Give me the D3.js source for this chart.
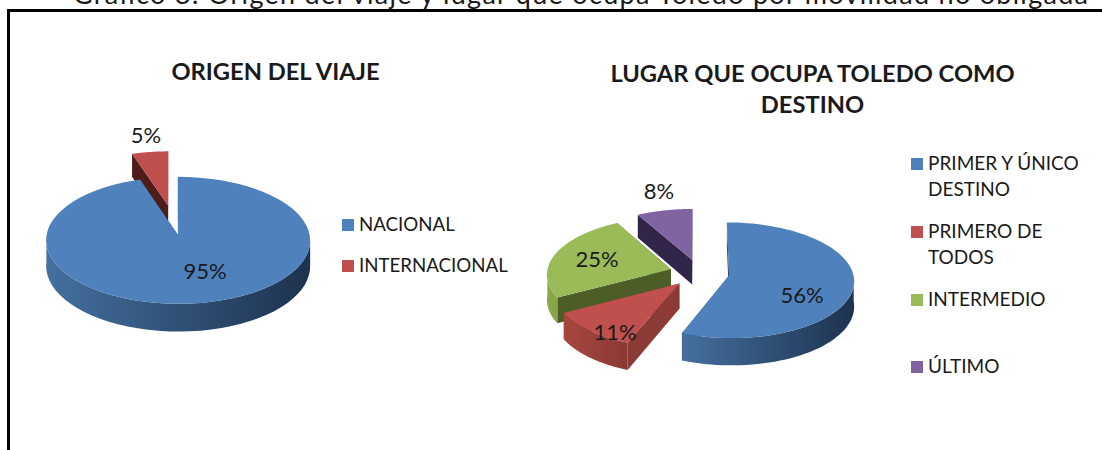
<!DOCTYPE html>
<html>
<head>
<meta charset="utf-8">
<script src="https://cdn.jsdelivr.net/npm/d3@7"></script>
<style>
body { margin: 0; background: #fff; }
text { font-family: Lato, "Open Sans", sans-serif; fill: #1a1a1a; }
</style>
</head>
<body>
<svg id="chart" width="1102" height="450"></svg>
<script>
const pageTitle = 'Gráfico 8: Origen del viaje y lugar que ocupa Toledo por movilidad no obligada'

const origenLabels = ['NACIONAL', 'INTERNACIONAL']
const origenValues = [95, 5]

const lugarLabels = [['PRIMER Y ÚNICO', 'DESTINO'], ['PRIMERO DE', 'TODOS'], ['INTERMEDIO'], ['ÚLTIMO']]
const lugarValues = [56, 11, 25, 8]

const tops = ['#4f81bd', '#c0504d', '#9bbb59', '#8064a2']
const origenCuts = ['#27415f', '#4e1d1b']
const lugarCuts = ['#27415f', '#8c3a36', '#4d5d26', '#31264a']
const wallLeft = ['#44709f', '#a8463f', '#8aa84a', '#6d5590']
const wallRight = ['#1d324e', '#8a3935', '#6f8a3c', '#4d3c6a']

const svg = d3.select('#chart')
const defs = svg.append('defs')

svg.append('text')
	.attr('x', 73).attr('y', 4)
	.attr('textLength', 1015)
	.style('font-size', '27px')
	.text(pageTitle)

svg.append('path')
	.attr('d', 'M8.5,450V10.5H1102')
	.attr('fill', 'none')
	.attr('stroke', '#000')
	.attr('stroke-width', 3)

function drawPie(values, opt, id){
	const g = svg.append('g')
	const pie = d3.pie().sort(null).value(d => d)
	const arcs = pie(values)

	// flat disk coordinates to screen, with some perspective
	const project = (u, v, h) => {
		const s = 1 / (1 - opt.persp * v / opt.r)
		return [opt.cx + u * s, opt.cy + (v * opt.tilt + h) * s]
	}
	const line = d3.line()

	// far slices first
	const mid = d => (d.startAngle + d.endAngle) / 2
	const order = d3.range(arcs.length).sort((a, b) => Math.cos(mid(arcs[b])) - Math.cos(mid(arcs[a])))

	order.forEach(i => {
		const d = arcs[i]
		const ox = Math.sin(mid(d)) * opt.explode
		const oy = -Math.cos(mid(d)) * opt.explode
		const steps = d3.range(0, 1.0001, 1 / 80).map(t => d.startAngle + t * (d.endAngle - d.startAngle))
		const rim = steps.map(a => [ox + Math.sin(a) * opt.r, oy - Math.cos(a) * opt.r])

		const top = rim.map(p => project(p[0], p[1], 0))
		const bottom = rim.map(p => project(p[0], p[1], opt.depth))
		const apexTop = project(ox, oy, 0)
		const apexBottom = project(ox, oy, opt.depth)

		// cut faces
		;[[top[0], bottom[0]], [top[top.length - 1], bottom[bottom.length - 1]]].forEach(e => {
			g.append('path')
				.attr('d', line([apexTop, e[0], e[1], apexBottom]) + 'Z')
				.attr('fill', opt.cuts[i])
		})

		// outer wall, only the part that faces the viewer
		const front = d3.range(steps.length).filter(k => Math.cos(steps[k]) < 0)
		if(front.length > 1){
			const gradId = id + '-wall-' + i
			const xs = d3.extent(top, p => p[0])
			const grad = defs.append('linearGradient')
				.attr('id', gradId)
				.attr('gradientUnits', 'userSpaceOnUse')
				.attr('x1', xs[0]).attr('x2', xs[1])
				.attr('y1', 0).attr('y2', 0)
			grad.append('stop').attr('offset', 0).attr('stop-color', wallLeft[i])
			grad.append('stop').attr('offset', 1).attr('stop-color', wallRight[i])

			g.append('path')
				.attr('d', line(front.map(k => top[k]).concat(front.map(k => bottom[k]).reverse())) + 'Z')
				.attr('fill', 'url(#' + gradId + ')')
		}

		// top face
		g.append('path')
			.attr('d', line([apexTop].concat(top)) + 'Z')
			.attr('fill', tops[i])
	})
}

function drawLabels(values, xs, ys){
	svg.append('g').selectAll('text')
		.data(values)
		.join('text')
		.attr('x', (d, i) => xs[i])
		.attr('y', (d, i) => ys[i])
		.attr('text-anchor', 'middle')
		.style('font-size', '22px')
		.text(d => d + '%')
}

function drawLegend(labels, x, ys, colors, size){
	const g = svg.append('g')
	labels.forEach((lines, i) => {
		g.append('rect')
			.attr('x', x).attr('y', ys[i])
			.attr('width', 12).attr('height', 12)
			.attr('fill', colors[i])
		lines.forEach((t, k) => {
			g.append('text')
				.attr('x', x + 17).attr('y', ys[i] + 12 + k * 25.5)
				.style('font-size', size + 'px')
				.text(t)
		})
	})
}

drawPie(origenValues, {cx: 173, cy: 220, r: 129, tilt: 0.47, persp: 0.08, depth: 25, explode: 32, cuts: origenCuts}, 'origen')
drawPie(lugarValues, {cx: 699.5, cy: 273, r: 124, tilt: 0.46, persp: 0.08, depth: 25, explode: 30, cuts: lugarCuts}, 'lugar')

drawLabels(origenValues, [205, 146], [279, 143])
drawLabels(lugarValues, [802, 615, 597, 659], [303, 340, 267, 199])

drawLegend(origenLabels.map(d => [d]), 342, [219, 260], tops, 18.7)
drawLegend(lugarLabels, 911, [158, 226, 294, 361], tops, 19)

const titles = svg.append('g').style('font-weight', 700).style('font-size', '23.7px').attr('text-anchor', 'middle')
titles.append('text').attr('x', 275.5).attr('y', 80).text('ORIGEN DEL VIAJE')
titles.append('text').attr('x', 812.5).attr('y', 82).text('LUGAR QUE OCUPA TOLEDO COMO')
titles.append('text').attr('x', 812.5).attr('y', 113).text('DESTINO')
</script>
</body>
</html>
